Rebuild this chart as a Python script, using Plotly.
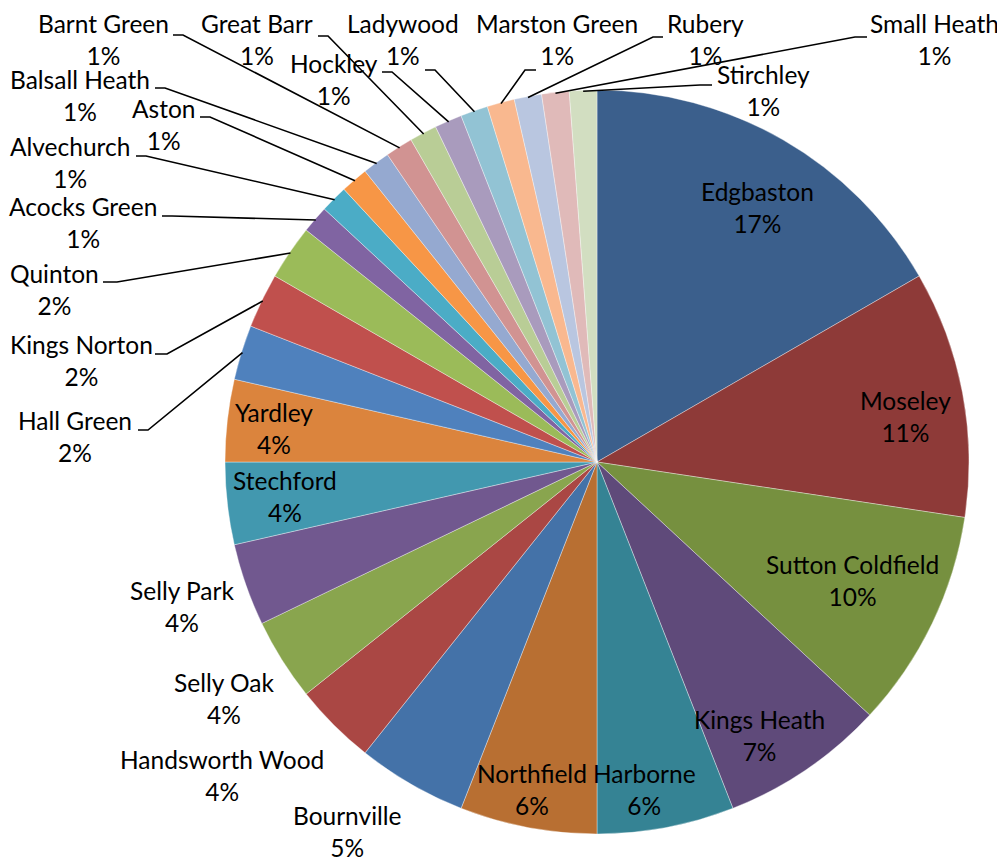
import math
import plotly.graph_objects as go

# ---------------- data ----------------
areas = ["Edgbaston", "Moseley", "Sutton Coldfield", "Kings Heath", "Harborne",
         "Northfield", "Bournville", "Handsworth Wood", "Selly Oak", "Selly Park",
         "Stechford", "Yardley", "Hall Green", "Kings Norton", "Quinton",
         "Acocks Green", "Alvechurch", "Aston", "Balsall Heath", "Barnt Green",
         "Great Barr", "Hockley", "Ladywood", "Marston Green", "Rubery",
         "Small Heath", "Stirchley"]
counts = [14, 9, 8, 6, 5, 5, 4, 3, 3, 3, 3, 3, 2, 2, 2,
          1, 1, 1, 1, 1, 1, 1, 1, 1, 1, 1, 1]

# ---------------- styles ----------------
colors = ["#3B5F8C", "#8E3A38", "#76903F", "#5F4A7A", "#358394", "#B86F32",
          "#4472A8", "#AA4744", "#89A54E", "#71588F", "#4298AF", "#DB843D",
          "#4F81BD", "#C0504D", "#9BBB59", "#8064A2", "#4BACC6", "#F79646",
          "#95A9D0", "#D19392", "#B9CD96", "#A99BBD", "#92C3D4", "#F9B88F",
          "#B9C6E0", "#E0BAB9", "#D2DEC1"]

W, H = 1005, 861
OFF = 8                     # page body margin of the browser
CX, CY, R = 597, 462, 372   # pie centre / radius in screen pixels

# label block centres (screen pixels)
label_pos = {
    "Edgbaston": (757, 208), "Moseley": (905, 416), "Sutton Coldfield": (852, 580),
    "Kings Heath": (759, 735), "Harborne": (644, 789), "Northfield": (532, 789),
    "Bournville": (347, 831), "Handsworth Wood": (222, 775), "Selly Oak": (224, 698),
    "Selly Park": (182, 606), "Stechford": (285, 496), "Yardley": (274, 428),
    "Hall Green": (75, 436), "Kings Norton": (81, 360), "Quinton": (54, 289),
    "Acocks Green": (83, 223), "Alvechurch": (70, 163), "Aston": (163, 124),
    "Balsall Heath": (80, 95), "Barnt Green": (103, 39), "Great Barr": (257, 39),
    "Hockley": (334, 80), "Ladywood": (403, 39), "Marston Green": (557, 39),
    "Rubery": (705, 39), "Small Heath": (934, 39), "Stirchley": (763, 91),
}
# leader line start at label and horizontal elbow length (screen pixels)
leader_start = {
    "Hall Green": (138, 430, 10), "Kings Norton": (155, 354, 12),
    "Quinton": (103, 282, 14), "Acocks Green": (162, 216, 10),
    "Alvechurch": (136, 156, 10), "Aston": (200, 117, 10),
    "Balsall Heath": (155, 88, 10), "Barnt Green": (173, 35, 10),
    "Great Barr": (318, 36, 10), "Hockley": (382, 72, 10),
    "Ladywood": (425, 70, 10), "Marston Green": (536, 70, -11),
    "Rubery": (663, 37, -10), "Small Heath": (867, 37, -12),
    "Stirchley": (712, 85, -12),
}

FONT = "Lato"
FSIZE = 24.5


def px(x, y):
    return (x - OFF) / W, 1 - (y - OFF) / H


total = sum(counts)
d0 = px(CX - R, CY + R)
d1 = px(CX + R, CY - R)

fig = go.Figure(go.Pie(
    labels=areas, values=counts, sort=False, direction="clockwise", rotation=0,
    marker=dict(colors=colors, line=dict(color="rgba(255,255,255,0.6)", width=0.6)),
    textinfo="none", hoverinfo="label+percent", showlegend=False,
    domain=dict(x=[d0[0], d1[0]], y=[d0[1], d1[1]]),
))

annotations = []
shapes = []
cum = 0
for name, v in zip(areas, counts):
    mid = (cum + v / 2) / total * 2 * math.pi
    cum += v
    pct = round(v / total * 100)
    lx, ly = label_pos[name]
    ax_, ay_ = px(lx, ly)
    annotations.append(dict(
        x=ax_, y=ay_, xref="paper", yref="paper", showarrow=False,
        text=f"{name}<br>{pct}%", xanchor="center", yanchor="middle",
        align="center", font=dict(family=FONT, size=FSIZE, color="black")))
    if name in leader_start:
        sx, sy, d = leader_start[name]
        ex = CX + (R - 1) * math.sin(mid)
        ey = CY - (R - 1) * math.cos(mid)
        p0 = px(sx, sy)
        p1 = px(sx + d, sy)
        p2 = px(ex, ey)
        shapes.append(dict(
            type="path", xref="paper", yref="paper",
            path=f"M {p0[0]},{p0[1]} L {p1[0]},{p1[1]} L {p2[0]},{p2[1]}",
            line=dict(color="black", width=1.6)))

fig.update_layout(
    width=W, height=H, margin=dict(l=0, r=0, t=0, b=0),
    paper_bgcolor="white", plot_bgcolor="white",
    annotations=annotations, shapes=shapes,
    font=dict(family=FONT, size=FSIZE, color="black"),
)

fig.write_html("out.html")
